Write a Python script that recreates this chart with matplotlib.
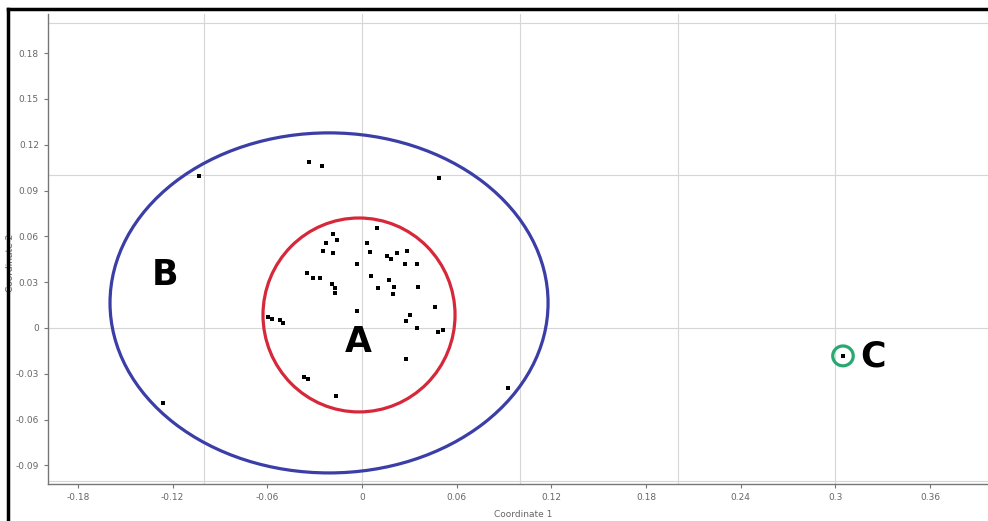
import matplotlib
matplotlib.use("Agg")
import matplotlib.pyplot as plt
from matplotlib.patches import Ellipse
from matplotlib.lines import Line2D

# Data (Coordinate 1, Coordinate 2)
coord1 = [-0.0336, -0.0253, -0.1033, 0.0488, 0.0095, -0.0184, -0.0228, -0.0158,
          0.0032, -0.0247, -0.0184, 0.0051, 0.0158, 0.0184, 0.0222, 0.0285,
          0.0272, 0.0349, -0.0032, -0.0349, -0.0311, -0.0266, -0.0190, -0.0171,
          -0.0171, 0.0057, 0.0171, 0.0101, 0.0203, 0.0196, 0.0355, -0.0032,
          0.0463, -0.0596, -0.0570, -0.0520, -0.0501, 0.0304, 0.0279, 0.0349,
          0.0482, 0.0513, 0.0279, -0.0368, -0.0342, -0.0165, -0.1261, 0.0925,
          0.3048]
coord2 = [0.1087, 0.1061, 0.0995, 0.0982, 0.0655, 0.0616, 0.0557, 0.0576,
          0.0557, 0.0504, 0.0491, 0.0498, 0.0472, 0.0452, 0.0491, 0.0504,
          0.0419, 0.0419, 0.0419, 0.0360, 0.0327, 0.0327, 0.0288, 0.0262,
          0.0229, 0.0341, 0.0314, 0.0262, 0.0268, 0.0223, 0.0268, 0.0111,
          0.0138, 0.0072, 0.0059, 0.0052, 0.0033, 0.0085, 0.0046, 0.0000,
          -0.0026, -0.0013, -0.0203, -0.0321, -0.0334, -0.0445, -0.0491, -0.0393,
          -0.0183]

x_ticks = [-0.18, -0.12, -0.06, 0, 0.06, 0.12, 0.18, 0.24, 0.3, 0.36]
x_tick_labels = ["-0.18", "-0.12", "-0.06", "0", "0.06", "0.12", "0.18", "0.24", "0.3", "0.36"]
y_ticks = [-0.09, -0.06, -0.03, 0, 0.03, 0.06, 0.09, 0.12, 0.15, 0.18]
y_tick_labels = ["-0.09", "-0.06", "-0.03", "0", "0.03", "0.06", "0.09", "0.12", "0.15", "0.18"]
grid_x = [-0.1, 0, 0.1, 0.2, 0.3]
grid_y = [-0.1, 0, 0.1, 0.2]

# Group outlines: label, center, width, height, colour
groups = ["B", "A", "C"]
group_center_x = [-0.0209, -0.0019, 0.3048]
group_center_y = [0.0164, 0.0085, -0.0183]
group_width = [0.2776, 0.1217, 0.0130]
group_height = [0.2227, 0.1270, 0.0130]
group_colors = ["#3b3ea6", "#d6283a", "#2aa872"]
label_x = [-0.1245, -0.0025, 0.3240]
label_y = [0.0350, -0.0095, -0.0190]

fig = plt.figure(figsize=(9.88, 5.21), dpi=100)
fig.patch.set_facecolor("white")
ax = fig.add_axes([48 / 988, 37 / 521, 940 / 988, 470 / 521])
ax.set_xlim(-0.199, 0.3967)
ax.set_ylim(-0.1022, 0.2056)

for gx in grid_x:
    ax.axvline(gx, color="#d6d6d6", lw=0.8, zorder=0)
for gy in grid_y:
    ax.axhline(gy, color="#d6d6d6", lw=0.8, zorder=0)

ax.scatter(coord1, coord2, s=6, c="black", marker="s", linewidths=0, zorder=3)

for g, cx, cy, w, h, col, lx, ly in zip(groups, group_center_x, group_center_y,
                                          group_width, group_height, group_colors,
                                          label_x, label_y):
    ax.add_patch(Ellipse((cx, cy), w, h, fill=False, edgecolor=col, lw=2.3, zorder=2))
    ax.text(lx, ly, g, fontsize=25, fontweight="heavy", color="black",
            ha="center", va="center", family="DejaVu Sans", zorder=4)

ax.set_xticks(x_ticks)
ax.set_xticklabels(x_tick_labels)
ax.set_yticks(y_ticks)
ax.set_yticklabels(y_tick_labels)
ax.tick_params(axis="both", labelsize=6.5, colors="#777777", length=3, width=0.8,
               labelcolor="#666666")
for side in ["top", "right"]:
    ax.spines[side].set_visible(False)
for side in ["left", "bottom"]:
    ax.spines[side].set_color("#777777")
    ax.spines[side].set_linewidth(1.0)

ax.set_xlabel("Coordinate 1", fontsize=6.5, color="#666666")
ax.xaxis.set_label_coords(0.505, -0.055)
ax.set_ylabel("Coordinate 2", fontsize=6.5, color="#666666")
ax.yaxis.set_label_coords(-0.035, 0.47)

# Outer border (top and left black frame)
fig.add_artist(Line2D([8 / 988, 1.0], [1 - 9 / 521, 1 - 9 / 521], color="black", lw=2.5,
                      transform=fig.transFigure))
fig.add_artist(Line2D([8 / 988, 8 / 988], [0, 1 - 9 / 521], color="black", lw=2.5,
                      transform=fig.transFigure))

fig.savefig("out.png", dpi=100, facecolor="white")
